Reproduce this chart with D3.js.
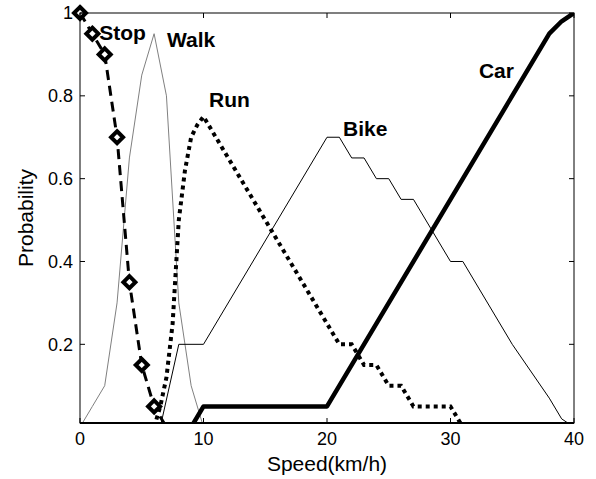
<!DOCTYPE html>
<head>
  <meta charset="utf-8">
  <script src="https://d3js.org/d3.v7.min.js"></script>
  <style>
    body { margin:0; background:#fff; }
    text { font-family: "Liberation Sans", Arial, sans-serif; }
  </style>
</head>
<body>
<script>
  // speed (km/h) / probability
  var stopX = [0, 1, 2, 3, 4, 5, 6, 7];
  var stopY = [1, 0.95, 0.9, 0.7, 0.35, 0.15, 0.05, 0];

  var walkX = [0, 1, 2, 3, 4, 5, 6, 7, 8, 9, 10];
  var walkY = [0, 0.05, 0.1, 0.3, 0.65, 0.85, 0.95, 0.8, 0.3, 0.1, 0];

  var runX = [6, 6.5, 7, 7.5, 8, 8.5, 9, 9.5, 10, 21, 22, 23, 24, 25, 26, 27, 30, 31];
  var runY = [0, 0.05, 0.12, 0.25, 0.5, 0.62, 0.7, 0.73, 0.75, 0.2, 0.2, 0.15, 0.15, 0.1, 0.1, 0.05, 0.05, 0];

  var bikeX = [6.5, 8, 10, 20, 21, 22, 23, 24, 25, 26, 27, 30, 31, 35, 38, 39, 40];
  var bikeY = [0, 0.2, 0.2, 0.7, 0.7, 0.65, 0.65, 0.6, 0.6, 0.55, 0.55, 0.4, 0.4, 0.2, 0.07, 0.02, 0];

  var carX = [9, 10, 20, 38, 39, 40];
  var carY = [0, 0.05, 0.05, 0.95, 0.98, 1];

  var labels = ["Stop", "Walk", "Run", "Bike", "Car"];
  var labelX = [1.55, 7.05, 10.45, 21.3, 32.3];
  var labelY = [0.936, 0.917, 0.772, 0.702, 0.842];

  var xTicks = [0, 10, 20, 30, 40];
  var yTicks = [0.2, 0.4, 0.6, 0.8, 1];

  var width = 596, height = 479;
  var margin = {left: 80, top: 13, right: 22, bottom: 56};
  var w = width - margin.left - margin.right,
      h = height - margin.top - margin.bottom;

  var svg = d3.select("body").append("svg")
    .attr("width", width)
    .attr("height", height);

  var g = svg.append("g")
    .attr("transform", "translate(" + margin.left + "," + margin.top + ")");

  var x = d3.scaleLinear().domain([0, 40]).range([0, w]);
  var y = d3.scaleLinear().domain([0.01, 1]).range([h, 0]);

  svg.append("clipPath").attr("id", "clip")
    .append("rect").attr("width", w).attr("height", h);

  function pts(xs, ys) {
    return xs.map(function(v, i) { return [v, ys[i]]; });
  }

  var line = d3.line()
    .x(function(d) { return x(d[0]); })
    .y(function(d) { return y(d[1]); });

  var plot = g.append("g").attr("clip-path", "url(#clip)");

  plot.append("path")
    .attr("d", line(pts(walkX, walkY)))
    .attr("fill", "none").attr("stroke", "#808080").attr("stroke-width", 1);

  plot.append("path")
    .attr("d", line(pts(bikeX, bikeY)))
    .attr("fill", "none").attr("stroke", "#000").attr("stroke-width", 1);

  plot.append("path")
    .attr("d", line(pts(runX, runY)))
    .attr("fill", "none").attr("stroke", "#000").attr("stroke-width", 4)
    .attr("stroke-dasharray", "4,4");

  plot.append("path")
    .attr("d", line(pts(carX, carY)))
    .attr("fill", "none").attr("stroke", "#000").attr("stroke-width", 4.5)
    .attr("stroke-linejoin", "round");

  plot.append("path")
    .attr("d", line(pts(stopX, stopY)))
    .attr("fill", "none").attr("stroke", "#000").attr("stroke-width", 3)
    .attr("stroke-dasharray", "10,6");

  // diamond markers (those below the axis are not drawn, as in matlab)
  g.selectAll(".mk")
    .data(pts(stopX, stopY).filter(function(d) { return d[1] >= y.domain()[0]; }))
    .enter().append("path")
    .attr("class", "mk")
    .attr("transform", function(d) { return "translate(" + x(d[0]) + "," + y(d[1]) + ")"; })
    .attr("d", "M0,-6L6,0L0,6L-6,0Z")
    .attr("fill", "#fff").attr("stroke", "#000").attr("stroke-width", 4);

  // frame
  g.append("rect").attr("width", w).attr("height", h)
    .attr("fill", "none").attr("stroke", "#000").attr("stroke-width", 1);
  g.append("line").attr("x1", 0).attr("x2", w).attr("y1", h).attr("y2", h)
    .attr("stroke", "#000").attr("stroke-width", 2);

  // ticks, inward on all four sides
  var tk = 5;
  xTicks.forEach(function(t) {
    g.append("line").attr("x1", x(t)).attr("x2", x(t)).attr("y1", h).attr("y2", h - tk)
      .attr("stroke", "#000");
    g.append("line").attr("x1", x(t)).attr("x2", x(t)).attr("y1", 0).attr("y2", tk)
      .attr("stroke", "#000");
  });
  yTicks.forEach(function(t) {
    g.append("line").attr("x1", 0).attr("x2", tk).attr("y1", y(t)).attr("y2", y(t))
      .attr("stroke", "#000");
    g.append("line").attr("x1", w).attr("x2", w - tk).attr("y1", y(t)).attr("y2", y(t))
      .attr("stroke", "#000");
  });

  g.selectAll(".xt").data(xTicks).enter().append("text")
    .attr("x", function(d) { return x(d); })
    .attr("y", h + 22)
    .attr("text-anchor", "middle")
    .attr("font-size", 18)
    .text(function(d) { return d; });

  g.selectAll(".yt").data(yTicks).enter().append("text")
    .attr("x", -7)
    .attr("y", function(d) { return y(d); })
    .attr("dy", "0.36em")
    .attr("text-anchor", "end")
    .attr("font-size", 18)
    .text(function(d) { return d; });

  svg.append("text")
    .attr("x", margin.left + w / 2)
    .attr("y", 471)
    .attr("text-anchor", "middle")
    .attr("font-size", 21)
    .text("Speed(km/h)");

  svg.append("text")
    .attr("transform", "translate(33," + (margin.top + h / 2) + ") rotate(-90)")
    .attr("text-anchor", "middle")
    .attr("font-size", 21)
    .text("Probability");

  g.selectAll(".lb").data(labels).enter().append("text")
    .attr("x", function(d, i) { return x(labelX[i]); })
    .attr("y", function(d, i) { return y(labelY[i]); })
    .attr("font-size", 21)
    .attr("font-weight", "bold")
    .text(function(d) { return d; });
</script>
</body>
